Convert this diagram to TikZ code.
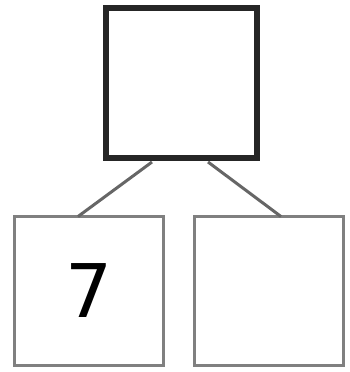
\documentclass[tikz,border=0pt]{standalone}
\usepackage{fontspec}
\newfontfamily\digitfont{DejaVu Sans}
\begin{document}
\begin{tikzpicture}[x=1pt,y=-1pt,
  topbox/.style={draw=black!85, line width=6pt, minimum width=151pt, minimum height=150pt, inner sep=0pt},
  leafbox/.style={draw=black!50, line width=3.5pt, minimum width=149pt, minimum height=149pt, inner sep=0pt, font=\digitfont\fontsize{74}{74}\selectfont},
  edge/.style={draw=black!60, line width=3pt}]
\useasboundingbox (0,0) rectangle (349,372);
\node[topbox] (root) at (181.5,83) {};
\node[leafbox] (l) at (89,291) {\raisebox{-1pt}{7}};
\node[leafbox] (r) at (269,291) {};
\coordinate (rl) at (152,162);
\coordinate (rr) at (208,162);
\coordinate (lt) at (78,216.5);
\coordinate (rt) at (281,216.5);
\draw[edge] (rl) -- (lt);
\draw[edge] (rr) -- (rt);
\end{tikzpicture}
\end{document}
